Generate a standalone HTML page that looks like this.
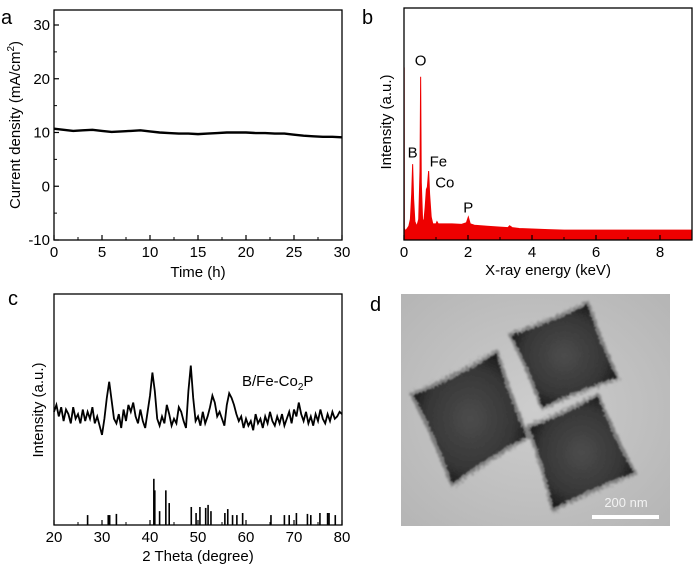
<!DOCTYPE html>
<html><head><meta charset="utf-8"><style>
html,body{margin:0;padding:0;background:#fff;}
svg{display:block;font-family:"Liberation Sans",Arial,sans-serif;}
</style></head><body>
<svg id="fig" width="700" height="567" viewBox="0 0 700 567" xmlns="http://www.w3.org/2000/svg">
<defs>
<filter id="rough" x="-10%" y="-10%" width="120%" height="120%">
<feTurbulence type="fractalNoise" baseFrequency="0.4" numOctaves="2" seed="3" result="n"/>
<feDisplacementMap in="SourceGraphic" in2="n" scale="5" xChannelSelector="R" yChannelSelector="G"/>
<feGaussianBlur stdDeviation="0.7"/>
</filter>
<filter id="halo" x="-10%" y="-10%" width="120%" height="120%">
<feTurbulence type="fractalNoise" baseFrequency="0.5" numOctaves="2" seed="7" result="n"/>
<feDisplacementMap in="SourceGraphic" in2="n" scale="9"/>
<feGaussianBlur stdDeviation="1"/>
</filter>
<radialGradient id="bg" cx="0.5" cy="0.5" r="0.7"><stop offset="0" stop-color="#cdcdcd"/><stop offset="1" stop-color="#b5b5b5"/></radialGradient>
<radialGradient id="cube" cx="0.5" cy="0.5" r="0.6"><stop offset="0" stop-color="#4c4c4c"/><stop offset="0.65" stop-color="#363636"/><stop offset="1" stop-color="#101010"/></radialGradient>
</defs>
<g id="pa"></g>
<g id="pb"></g>
<g id="pc"></g>
<g id="pd">
<rect x="401" y="294" width="269" height="232" fill="url(#bg)"/>
<g id="cubes"></g>
<text x="626" y="507" font-size="13" fill="#f2f2f2" text-anchor="middle">200 nm</text>
<rect x="592" y="515" width="67" height="4" fill="#fff"/>
</g>
<text x="1" y="24" font-size="20">a</text>
<text x="362" y="24" font-size="20">b</text>
<text x="8" y="305" font-size="20">c</text>
<text x="370" y="311" font-size="20">d</text>
</svg>
<script>
// Panel a data
const aTime=[0,1,2,3,4,5,6,7,8,9,10,11,12,13,14,15,16,17,18,19,20,21,22,23,24,25,26,27,28,29,30];
const aCurrent=[10.7,10.5,10.3,10.4,10.5,10.3,10.1,10.2,10.3,10.4,10.2,10.0,9.9,9.8,9.8,9.7,9.8,9.9,10.0,10.0,10.0,9.9,9.9,9.8,9.8,9.6,9.4,9.3,9.2,9.2,9.1];
const aXTicks=[0,5,10,15,20,25,30];
const aYTicks=[-10,0,10,20,30];
// Panel b data
const bEnergy=[0,0.005,0.01,0.05,0.1,0.15,0.2,0.24,0.27,0.3,0.34,0.4,0.46,0.5,0.52,0.54,0.58,0.62,0.66,0.7,0.73,0.77,0.8,0.85,0.9,1.0,1.03,1.07,1.2,1.5,1.8,1.95,2.01,2.07,2.2,2.6,3.0,3.25,3.3,3.38,3.6,4,4.5,5,6,7,8,9];
const bIntensity=[0,75,5,4,5,6,9,20,33,18,8,6,9,30,71,25,9,8,14,22,23,30,20,10,7,7,8,7,7,7,6.8,7.5,10,7,6.4,6,5.6,5.4,6.2,5.4,5,4.8,4.5,4.3,4.3,4.3,4.3,4.3];
const bXTicks=[0,2,4,6,8];
const bPeakNames=["B","O","Fe","Co","P"];
const bPeakPos=[0.27,0.52,0.77,0.85,2.01];
const bPeakLabelI=[35,75,31,22,11];
// Panel c data
const cTheta=[20,20.5,21,21.5,22,22.5,23,23.5,24,24.5,25,25.5,26,26.5,27,27.5,28,28.5,29,29.5,30,30.5,31,31.5,32,32.5,33,33.5,34,34.5,35,35.5,36,36.5,37,37.5,38,38.5,39,39.5,40,40.5,41,41.5,42,42.5,43,43.5,44,44.5,45,45.5,46,46.5,47,47.5,48,48.5,49,49.5,50,50.5,51,51.5,52,52.5,53,53.5,54,54.5,55,55.5,56,56.5,57,57.5,58,58.5,59,59.5,60,60.5,61,61.5,62,62.5,63,63.5,64,64.5,65,65.5,66,66.5,67,67.5,68,68.5,69,69.5,70,70.5,71,71.5,72,72.5,73,73.5,74,74.5,75,75.5,76,76.5,77,77.5,78,78.5,79,79.5,80];
const cIntensity=[49,52,47,51,45,50,48,44,51,46,48,44,50,45,49,46,51,44,47,43,39,46,55,62,54,46,44,48,42,50,45,52,49,53,47,44,50,45,42,49,56,66,58,46,43,47,44,52,48,43,46,44,51,49,45,42,58,69,55,45,47,43,49,44,47,51,56,53,47,49,46,43,52,57,55,52,48,45,47,42,46,43,45,41,48,44,46,42,47,44,49,45,43,47,44,48,43,46,49,44,50,47,53,48,45,49,44,47,43,48,45,50,46,44,48,45,49,46,47,49,48];
const refTheta=[27,31.3,31.6,33,40.8,41,42,43.3,44,48.6,49.6,50.4,51.6,52.1,52.7,55.6,56.2,57.2,58.1,59.3,65.2,68,69,70.5,72.8,73.5,75.4,77,77.3,78.6];
const refIntensity=[4.3,4.3,4.3,4.8,20,15,6,15,9.5,7.8,5.2,7.8,7.4,8.7,6,5.2,6.9,4.3,4.3,5.2,4.3,4.3,4.3,5.2,4.8,4.3,5.2,5.2,5.2,4.3];
const cXTicks=[20,30,40,50,60,70,80];

const NS="http://www.w3.org/2000/svg";
function mk(parent,tag,attrs,txt){const e=document.createElementNS(NS,tag);for(const k in attrs)e.setAttribute(k,attrs[k]);if(txt!==undefined)e.textContent=txt;parent.appendChild(e);return e;}
function lin(d0,d1,r0,r1){return v=>r0+(v-d0)*(r1-r0)/(d1-d0);}

function frame(g,x0,y0,x1,y1,sx,sy,xt,yt,xminor,yminor){
  const f=mk(g,'rect',{x:x0,y:y0,width:x1-x0,height:y1-y0,fill:'none',stroke:'#000','stroke-width':1.3});
  
  
  xt.forEach(v=>{const x=sx(v);mk(g,'line',{x1:x,x2:x,y1:y1,y2:y1-5,stroke:'#000','stroke-width':1.2});
    const t=mk(g,'text',{x:x,y:y1+17,'font-size':15,'text-anchor':'middle'},v);
    
    });
  xminor.forEach(v=>{const x=sx(v);mk(g,'line',{x1:x,x2:x,y1:y1,y2:y1-3,stroke:'#000','stroke-width':1});});
  yt.forEach(v=>{const y=sy(v);mk(g,'line',{x1:x0,x2:x0+5,y1:y,y2:y,stroke:'#000','stroke-width':1.2});
    const t=mk(g,'text',{x:x0-4,y:y+5,'font-size':15,'text-anchor':'end'},v);
    
    });
  yminor.forEach(v=>{const y=sy(v);mk(g,'line',{x1:x0,x2:x0+3,y1:y,y2:y,stroke:'#000','stroke-width':1});});
}

// Panel a
(function(){
  const g=document.getElementById('pa');
  const sx=lin(0,30,54,342), sy=lin(-10,30,240,25);
  frame(g,54,10,342,240,sx,sy,aXTicks,aYTicks,[2.5,7.5,12.5,17.5,22.5,27.5],[-5,5,15,25]);
  const p=mk(g,'polyline',{points:aTime.map((t,i)=>sx(t)+','+sy(aCurrent[i])).join(' '),fill:'none',stroke:'#000','stroke-width':2.4});
  
  
  const xt=mk(g,'text',{x:198,y:277,'font-size':15,'text-anchor':'middle'},'Time (h)');
  
  
  const yt=mk(g,'text',{x:0,y:0,'font-size':15,'text-anchor':'middle',transform:'translate(20,125) rotate(-90)'});
  
  
  mk(yt,'tspan',{},'Current density (mA/cm');
  mk(yt,'tspan',{dy:-6,'font-size':10},'2');
  mk(yt,'tspan',{dy:6},')');
})();

// Panel b
(function(){
  const g=document.getElementById('pb');
  const sx=lin(0,9,404,692), sy=lin(0,100,240,10);
  const pts=[sx(0)+','+sy(0)].concat(bEnergy.map((e,i)=>sx(e)+','+sy(bIntensity[i]))).concat([sx(9)+','+sy(0)]);
  const p=mk(g,'polygon',{points:pts.join(' '),fill:'#ee0000',stroke:'#ee0000','stroke-width':1});
  
  
  frame(g,404,8,692,240,sx,sy,bXTicks,[],[1,3,5,7],[]);
  bPeakNames.forEach((n,i)=>{
    let x=sx(bPeakPos[i]);let anchor='middle';
    if(n==='Fe'){x+=1;anchor='start';}
    if(n==='Co'){x+=4;anchor='start';}
    const t=mk(g,'text',{x:x,y:sy(bPeakLabelI[i])-2,'font-size':15,'text-anchor':anchor},n);
    
    
  });
  const xt=mk(g,'text',{x:548,y:275,'font-size':15,'text-anchor':'middle'},'X-ray energy (keV)');
  
  
  const yt=mk(g,'text',{x:0,y:0,'font-size':15,'text-anchor':'middle',transform:'translate(391,122) rotate(-90)'},'Intensity (a.u.)');
  
  
})();

// Panel c
(function(){
  const g=document.getElementById('pc');
  const sx=lin(20,80,54,342), sy=lin(0,100,525,294);
  frame(g,54,294,342,525,sx,sy,cXTicks,[],[25,35,45,55,65,75],[]);
  const p=mk(g,'polyline',{points:cTheta.map((t,i)=>sx(t)+','+sy(cIntensity[i])).join(' '),fill:'none',stroke:'#000','stroke-width':1.8});
  
  
  refTheta.forEach((t,i)=>{
    const b=mk(g,'line',{x1:sx(t),x2:sx(t),y1:sy(0),y2:sy(refIntensity[i]),stroke:'#000','stroke-width':1.6});
    
    
  });
  const lt=mk(g,'text',{x:242,y:386,'font-size':15,'text-anchor':'start'});
  
  
  mk(lt,'tspan',{},'B/Fe-Co');
  mk(lt,'tspan',{dy:4,'font-size':10},'2');
  mk(lt,'tspan',{dy:-4},'P');
  const xt=mk(g,'text',{x:198,y:561,'font-size':15,'text-anchor':'middle'},'2 Theta (degree)');
  
  
  const yt=mk(g,'text',{x:0,y:0,'font-size':15,'text-anchor':'middle',transform:'translate(43,410) rotate(-90)'},'Intensity (a.u.)');
  
  
})();

// Panel d cubes (concave-sided)
(function(){
  const g=document.getElementById('cubes');
  const cubes=[
    {name:'cube-left',pts:[[412,395],[497,352],[528,437],[452,485]]},
    {name:'cube-top',pts:[[510,335],[588,303],[618,378],[542,408]]},
    {name:'cube-bottom',pts:[[528,427],[598,395],[635,473],[553,510]]}
  ];
  function pathFor(pts,grow,pinch){
    const cx=pts.reduce((s,p)=>s+p[0],0)/4, cy=pts.reduce((s,p)=>s+p[1],0)/4;
    const q=pts.map(p=>[cx+(p[0]-cx)*grow,cy+(p[1]-cy)*grow]);
    let d='M'+q[0][0]+','+q[0][1];
    for(let i=0;i<4;i++){const a=q[i],b=q[(i+1)%4];
      const mx=(a[0]+b[0])/2, my=(a[1]+b[1])/2;
      const kx=mx+(cx-mx)*pinch, ky=my+(cy-my)*pinch;
      d+=' Q'+kx+','+ky+' '+b[0]+','+b[1];}
    return d+'Z';
  }
  const hg=mk(g,'g',{filter:'url(#halo)'});
  cubes.forEach(c=>{
    const h=mk(hg,'path',{d:pathFor(c.pts,1.04,0.06),fill:'#7c7c7c'});
    
    
  });
  const cg=mk(g,'g',{filter:'url(#rough)'});
  cubes.forEach(c=>{
    const e=mk(cg,'path',{d:pathFor(c.pts,0.97,0.1),fill:'url(#cube)'});
    
    
  });
})();
</script>
</body></html>
